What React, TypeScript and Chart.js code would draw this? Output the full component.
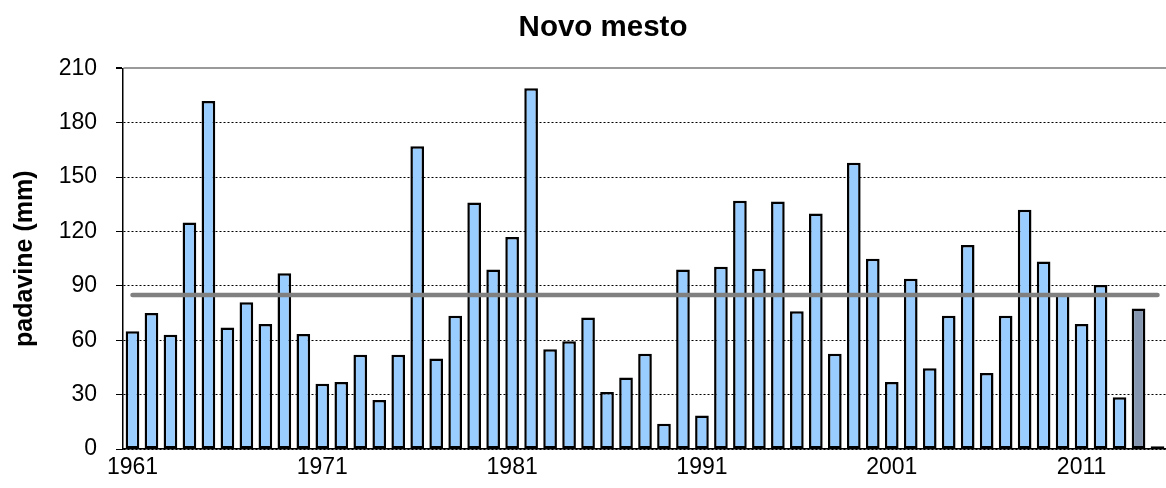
import { useEffect, useRef } from 'react';
import { Chart, registerables } from 'chart.js';

Chart.register(...registerables);

const YEARS = [
  '1961', '1962', '1963', '1964', '1965', '1966', '1967', '1968', '1969', '1970',
  '1971', '1972', '1973', '1974', '1975', '1976', '1977', '1978', '1979', '1980',
  '1981', '1982', '1983', '1984', '1985', '1986', '1987', '1988', '1989', '1990',
  '1991', '1992', '1993', '1994', '1995', '1996', '1997', '1998', '1999', '2000',
  '2001', '2002', '2003', '2004', '2005', '2006', '2007', '2008', '2009', '2010',
  '2011', '2012', '2013', '2014', '2015',
];

const PRECIP = [
  65, 75, 63, 125, 192, 67, 81, 69, 97, 63.5,
  36, 37, 52, 27, 52, 167, 50, 73.5, 136, 99,
  117, 199, 55, 59.5, 72.5, 31.5, 39.5, 52.5, 14, 99,
  18.5, 100.5, 137, 99.5, 136.5, 76, 130, 52.5, 158, 105,
  37, 94, 44.5, 73.5, 112.5, 42, 73.5, 132, 103.5, 86,
  69, 90.5, 28.5, 77.5, 1.5,
];

const AVERAGE = 85;
const LABELED_YEARS = ['1961', '1971', '1981', '1991', '2001', '2011'];
const Y_TICKS = [0, 30, 60, 90, 120, 150, 180, 210];

const BLUE = '#99CCFF';
const GRAY_BAR = '#8597B0';
const DARK_RED = '#993300';

export default function App() {
  const ref = useRef<HTMLCanvasElement | null>(null);

  useEffect(() => {
    if (!ref.current) return;
    const barColors = YEARS.map((y) => (y === '2014' ? GRAY_BAR : y === '2015' ? DARK_RED : BLUE));
    const avgData = YEARS.map(() => AVERAGE);
    const font = 'Liberation Sans, Arial, Helvetica, sans-serif';

    const chart = new Chart(ref.current, {
      type: 'bar',
      data: {
        labels: YEARS,
        datasets: [
          {
            type: 'line',
            label: 'povprečje',
            data: avgData,
            borderColor: '#808080',
            borderWidth: 4.5,
            borderCapStyle: 'round',
            pointRadius: 0,
            fill: false,
            order: 0,
          } as any,
          {
            type: 'bar',
            label: 'padavine',
            data: PRECIP,
            backgroundColor: barColors,
            borderColor: '#000000',
            borderWidth: 2.5,
            borderSkipped: false,
            categoryPercentage: 1,
            barPercentage: 0.72,
            order: 1,
          },
        ],
      },
      options: {
        responsive: false,
        animation: false,
        devicePixelRatio: 1,
        layout: { padding: 0 },
        plugins: {
          legend: { display: false },
          tooltip: { enabled: false },
          title: {
            display: true,
            text: 'Novo mesto',
            color: '#000',
            font: { family: font, size: 29.5, weight: 'bold' },
            padding: { top: 10, bottom: 23 },
          },
        },
        scales: {
          x: {
            grid: { display: false, drawTicks: false },
            border: { display: true, color: '#000', width: 1.5 },
            ticks: {
              autoSkip: false,
              maxRotation: 0,
              minRotation: 0,
              padding: 5,
              color: '#000',
              font: { family: font, size: 23 },
              callback: function (this: any, _v: any, i: number) {
                const lab = YEARS[i];
                return LABELED_YEARS.includes(lab) ? lab : '';
              },
            },
            afterFit: (s: any) => {
              s.height = 39;
            },
          },
          y: {
            min: 0,
            max: 210,
            afterBuildTicks: (s: any) => {
              s.ticks = Y_TICKS.map((v) => ({ value: v }));
            },
            grid: {
              color: (c: any) => (c.tick && c.tick.value === 210 ? '#9a9a9a' : '#000'),
              lineWidth: (c: any) => (c.tick && c.tick.value === 210 ? 2 : 1),
              tickColor: '#000',
              tickLength: 7,
              drawTicks: true,
            },
            border: {
              display: true,
              color: '#000',
              width: 1.5,
              dash: (c: any) => (c.tick && c.tick.value === 210 ? [] : [2, 2]),
            } as any,
            ticks: {
              padding: 19,
              color: '#000',
              font: { family: font, size: 23 },
            },
            title: {
              display: true,
              text: 'padavine (mm)',
              color: '#000',
              font: { family: font, size: 25, weight: 'bold' },
              padding: { top: 10, bottom: 0 },
            },
            afterFit: (s: any) => {
              s.width = 123;
            },
          },
          spacer: {
            type: 'linear',
            position: 'right',
            display: true,
            grid: { display: false, drawTicks: false },
            border: { display: false },
            ticks: { display: false },
            title: { display: false },
            afterFit: (s: any) => {
              s.width = 39;
            },
          } as any,
        },
      },
    });
    return () => chart.destroy();
  }, []);

  return (
    <div style={{ position: 'absolute', left: 0, top: 0, width: 1166, height: 488, overflow: 'hidden', background: '#fff' }}>
      <canvas ref={ref} width={1206} height={488} style={{ display: 'block' }} />
    </div>
  );
}
